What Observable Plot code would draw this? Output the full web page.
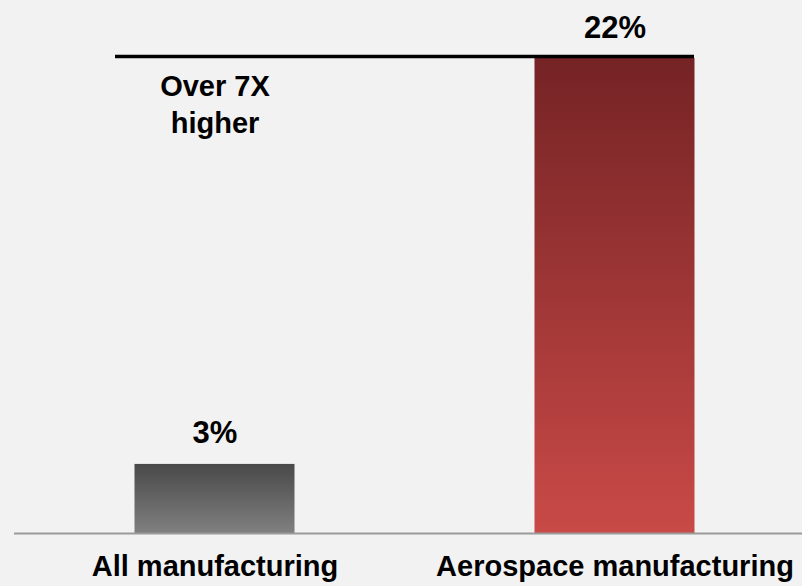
<!DOCTYPE html>
<html>
<head>
<meta charset="utf-8">
<script src="https://cdn.jsdelivr.net/npm/d3@7"></script>
<script src="https://cdn.jsdelivr.net/npm/@observablehq/plot@0.6"></script>
<style>
  html, body { margin: 0; padding: 0; background: #f2f2f2; }
  #chart svg { display: block; }
</style>
</head>
<body>
<div id="chart"></div>
<script>
const categories = ["All manufacturing", "Aerospace manufacturing"];
const values = [3.2, 22];
const valueLabels = ["3%", "22%"];
const annotation = "Over 7X\nhigher";
const gradientIds = ["gGray", "gRed"];

const data = categories.map((c, i) => ({category: c, value: values[i], label: valueLabels[i]}));

const defs = () => {
  const d = d3.create("svg:defs");
  const stops = {
    gGray: ["#494949", "#808080"],
    gRed: ["#752325", "#c94a47"]
  };
  for (const id of gradientIds) {
    const g = d.append("linearGradient").attr("id", id)
      .attr("x1", 0).attr("y1", 0).attr("x2", 0).attr("y2", 1);
    g.append("stop").attr("offset", "0%").attr("stop-color", stops[id][0]);
    g.append("stop").attr("offset", "100%").attr("stop-color", stops[id][1]);
  }
  return d.node();
};

const font = "'Liberation Sans', Arial, sans-serif";

const chart = Plot.plot({
  width: 802,
  height: 586,
  marginLeft: 14,
  marginRight: 0,
  marginTop: 58,
  marginBottom: 53,
  style: {background: "#f2f2f2", fontFamily: font, fontSize: "29px", fontWeight: "bold", color: "#000"},
  x: {domain: categories, paddingInner: 0.6, paddingOuter: 0.285, align: 0.5285, round: false, label: null},
  y: {domain: [0, 22], axis: null},
  color: {type: "ordinal", domain: categories, range: gradientIds.map(id => `url(#${id})`)},
  marks: [
    defs,
    Plot.barY(data, {x: "category", y: "value", fill: "category"}),
    Plot.ruleY([0], {stroke: "#9a9a9a", strokeWidth: 2}),
    Plot.ruleY([22], {stroke: "#000", strokeWidth: 3.5, dy: -2, insetLeft: 101, insetRight: 108}),
    Plot.text(data, {x: "category", y: "value", text: "label", lineAnchor: "bottom", dy: -21, fontSize: 31, fontWeight: "bold", fill: "#000"}),
    Plot.text([annotation], {x: () => categories[0], y: () => values[1], text: d => d, lineAnchor: "top", dy: 11, lineHeight: 1.28, fontSize: 29, fontWeight: "bold", fill: "#000"}),
    Plot.axisX({tickSize: 0, tickPadding: 22, fontSize: 29, fontWeight: "bold", fill: "#000", label: null})
  ]
});
document.getElementById("chart").appendChild(chart);
</script>
</body>
</html>
